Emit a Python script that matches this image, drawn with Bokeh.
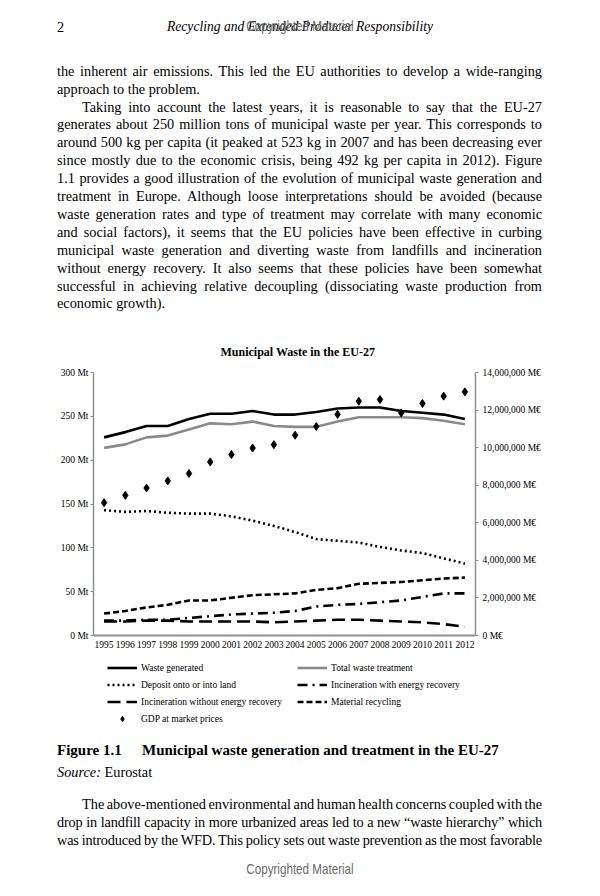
from bokeh.plotting import figure
from bokeh.models import (Range1d, FactorRange, LinearAxis, FixedTicker, Legend,
                          LegendItem, Div)
from bokeh.layouts import column
from bokeh.embed import file_html
from bokeh.resources import INLINE

# ---------------- data ----------------
years = ["1995", "1996", "1997", "1998", "1999", "2000", "2001", "2002", "2003",
         "2004", "2005", "2006", "2007", "2008", "2009", "2010", "2011", "2012"]
waste_generated = [226, 232, 239, 239, 247, 253, 253, 256, 252, 252, 255, 259,
                   260, 260, 256, 254, 252, 247]
total_treatment = [214, 218, 226, 228, 235, 242, 241, 244, 239, 238, 238, 244,
                   249, 249, 249, 248, 245, 241]
deposit_land = [143, 141, 142, 140, 139, 139, 136, 131, 125, 118, 110, 108,
                106, 101, 97, 94, 88, 82]
incin_energy = [17, 17, 18, 18, 20, 22, 24, 25, 26, 28, 33, 35,
                36, 38, 40, 44, 48, 48]
incin_no_energy = [16, 16, 17, 17, 16, 16, 16, 16, 15, 16, 17, 18,
                   18, 17, 16, 15, 13, 10]
recycling = [25, 28, 32, 35, 40, 40, 43, 46, 47, 48, 52, 54,
             59, 60, 61, 63, 65, 66]
gdp = [7070000, 7460000, 7850000, 8230000, 8620000, 9240000, 9630000, 9980000,
       10160000, 10660000, 11120000, 11770000, 12470000, 12560000, 11850000,
       12350000, 12740000, 12970000]

mt_ticks = [0, 50, 100, 150, 200, 250, 300]
mt_labels = ["0 Mt", "50 Mt", "100 Mt", "150 Mt", "200 Mt", "250 Mt", "300 Mt"]
gdp_ticks = [0, 2000000, 4000000, 6000000, 8000000, 10000000, 12000000, 14000000]
gdp_labels = ["0 M€", "2,000,000 M€", "4,000,000 M€", "6,000,000 M€",
              "8,000,000 M€", "10,000,000 M€", "12,000,000 M€", "14,000,000 M€"]

MT_MAX = 300
GDP_MAX = 14000000

SERIF = "Liberation Serif"
GRAY_AX = "#8e8e8e"

# ---------------- chart ----------------
# plot band (0..300 Mt) is 263 px tall; the frame is extended 93 px below the
# zero line so the legend can sit inside the frame, under the year labels.
BAND_PX = 263
EXTRA_PX = 93
mt_start = -EXTRA_PX * MT_MAX / BAND_PX
gdp_start = mt_start * GDP_MAX / MT_MAX

p = figure(width=584, height=404, x_range=FactorRange(*years),
           y_range=Range1d(mt_start, MT_MAX), output_backend="svg",
           toolbar_location=None,
           min_border_left=85, min_border_right=117, min_border_top=46,
           min_border_bottom=2, outline_line_color=None,
           background_fill_color="white", border_fill_color="white")
p.margin = 0
p.extra_y_ranges = {"gdp": Range1d(gdp_start, GDP_MAX)}
p.xgrid.visible = False
p.ygrid.visible = False

p.title.text = "Municipal Waste in the EU-27"
p.title.align = "left"
p.title.offset = 127
p.title.text_font = SERIF
p.title.text_font_size = "12px"
p.title.text_font_style = "bold"
p.title.text_color = "black"
p.title.standoff = 28


def style_axis(ax):
    ax.axis_line_color = GRAY_AX
    ax.axis_line_width = 1.5
    ax.major_tick_line_color = GRAY_AX
    ax.major_tick_in = 0
    ax.major_tick_out = 3
    ax.minor_tick_line_color = None
    ax.major_label_text_font = SERIF
    ax.major_label_text_font_size = "9.5px"
    ax.major_label_text_color = "black"
    ax.major_label_standoff = 2


yl = p.yaxis[0]
yl.ticker = FixedTicker(ticks=mt_ticks)
yl.major_label_overrides = dict(zip(mt_ticks, mt_labels))
yl.bounds = (0, MT_MAX)
style_axis(yl)

yr = LinearAxis(y_range_name="gdp", ticker=FixedTicker(ticks=gdp_ticks),
                major_label_overrides=dict(zip(gdp_ticks, gdp_labels)),
                bounds=(0, GDP_MAX))
style_axis(yr)
yr.major_label_standoff = 4
p.add_layout(yr, "right")

xa = p.xaxis[0]
style_axis(xa)
xa.fixed_location = 0
xa.major_tick_line_color = None
xa.major_tick_out = 0
xa.major_label_standoff = 5
xa.axis_line_width = 2

r_wg = p.line(years, waste_generated, line_color="black", line_width=2.6)
r_tt = p.line(years, total_treatment, line_color="#8a8a8a", line_width=2.6)
r_dl = p.line(years, deposit_land, line_color="black", line_width=2.6,
              line_dash="2 3")
r_ie = p.line(years, incin_energy, line_color="black", line_width=2.6,
              line_dash="10 5 2 5")
r_in = p.line(years, incin_no_energy, line_color="black", line_width=2.6,
              line_dash="13 6")
r_mr = p.line(years, recycling, line_color="black", line_width=2.6,
              line_dash="6 3")
r_gdp = p.scatter(years, gdp, marker="diamond", size=8, fill_color="black",
                  line_color="black", y_range_name="gdp")

legend = Legend(items=[
    LegendItem(label="Waste generated", renderers=[r_wg]),
    LegendItem(label="Total waste treatment", renderers=[r_tt]),
    LegendItem(label="Deposit onto or into land", renderers=[r_dl]),
    LegendItem(label="Incineration with energy recovery", renderers=[r_ie]),
    LegendItem(label="Incineration without energy recovery", renderers=[r_in]),
    LegendItem(label="Material recycling", renderers=[r_mr]),
    LegendItem(label="GDP at market prices", renderers=[r_gdp]),
], orientation="horizontal", ncols=2, location=(14, 3))
legend.label_text_font = SERIF
legend.label_text_font_size = "9.5px"
legend.label_text_color = "black"
legend.glyph_width = 30
legend.glyph_height = 13
legend.label_height = 13
legend.label_width = 152
legend.label_standoff = 4
legend.spacing = 4
legend.padding = 0
legend.margin = 0
legend.border_line_color = None
legend.background_fill_alpha = 0
p.add_layout(legend)

# ---------------- page text ----------------
FONT = "'Liberation Serif','Times New Roman',Times,serif"
SANS = "'Liberation Sans',Arial,sans-serif"


def asc_off(size, lh):
    return (lh - 1.107 * size) / 2 + 0.891 * size


def line(text, left, baseline, top0, size=14.3, lh=18, width=None, align="left",
         style=""):
    top = baseline - top0 - asc_off(size, lh)
    w = f"width:{width}px;" if width else ""
    if align == "justify":
        a = "text-align:justify;text-align-last:justify;word-spacing:-2px;"
    else:
        a = f"text-align:{align};white-space:nowrap;"
    return (f'<div style="position:absolute;left:{left - 8}px;top:{top:.2f}px;{w}'
            f'font-size:{size}px;line-height:{lh}px;{a}{style}">{text}</div>')


def watermark(baseline, top0):
    return line("Copyrighted Material", 150, baseline, top0, size=14.2, width=300,
                align="center",
                style=(f"font-family:{SANS};color:#6a6a6a;transform:scaleX(0.82);"
                       "transform-origin:50% 50%;"))


def page_div(parts, height):
    html = (f'<div style="position:relative;width:584px;height:{height}px;'
            f'overflow:hidden;font-family:{FONT};color:#000;">' + "".join(parts) + "</div>")
    return Div(text=html, width=584, height=height, margin=0)


TOP0 = 8
LM, RM = 57, 542
para1 = [
    ("the inherent air emissions. This led the EU authorities to develop a wide-ranging", 0, True),
    ("approach to the problem.", 0, False),
    ("Taking into account the latest years, it is reasonable to say that the EU-27", 25, True),
    ("generates about 250 million tons of municipal waste per year. This corresponds to", 0, True),
    ("around 500 kg per capita (it peaked at 523 kg in 2007 and has been decreasing ever", 0, True),
    ("since mostly due to the economic crisis, being 492 kg per capita in 2012). Figure", 0, True),
    ("1.1 provides a good illustration of the evolution of municipal waste generation and", 0, True),
    ("treatment in Europe. Although loose interpretations should be avoided (because", 0, True),
    ("waste generation rates and type of treatment may correlate with many economic", 0, True),
    ("and social factors), it seems that the EU policies have been effective in curbing", 0, True),
    ("municipal waste generation and diverting waste from landfills and incineration", 0, True),
    ("without energy recovery. It also seems that these policies have been somewhat", 0, True),
    ("successful in achieving relative decoupling (dissociating waste production from", 0, True),
    ("economic growth).", 0, False),
]
top_parts = [
    line("2", LM, 31.5, TOP0),
    line("<i>Recycling and Extended Producer Responsibility</i>", 8, 31.5, TOP0,
         size=13.6, width=584, align="center"),
    watermark(31.0, TOP0),
]
for i, (t, ind, just) in enumerate(para1):
    b = 75.6 + 17.9 * i
    top_parts.append(line(t, LM + ind, b, TOP0, width=RM - LM - ind,
                          align="justify" if just else "left"))
div_top = page_div(top_parts, 318)

BOT0 = 730
para2 = [
    ("The above-mentioned environmental and human health concerns coupled with the", 25, ""),
    ("drop in landfill capacity in more urbanized areas led to a new “waste hierarchy” which", 0,
     "letter-spacing:-0.18px;"),
    ("was introduced by the WFD. This policy sets out waste prevention as the most favorable", 0,
     "letter-spacing:-0.18px;"),
]
bot_parts = [
    line("<b>Figure 1.1</b>", LM, 755.5, BOT0, size=15),
    line("<b>Municipal waste generation and treatment in the EU-27</b>", 142, 755.5, BOT0, size=15),
    line("<i>Source:</i> Eurostat", LM, 777, BOT0),
]
for i, (t, ind, st) in enumerate(para2):
    b = 809 + 17.9 * i
    bot_parts.append(line(t, LM + ind, b, BOT0, width=RM - LM - ind, align="justify",
                          style=st))
bot_parts.append(watermark(874, BOT0))
div_bot = page_div(bot_parts, 158)

root = column(div_top, p, div_bot, spacing=0)
root.margin = (8, 0, 0, 8)

open("out.html", "w").write(file_html(root, INLINE))
